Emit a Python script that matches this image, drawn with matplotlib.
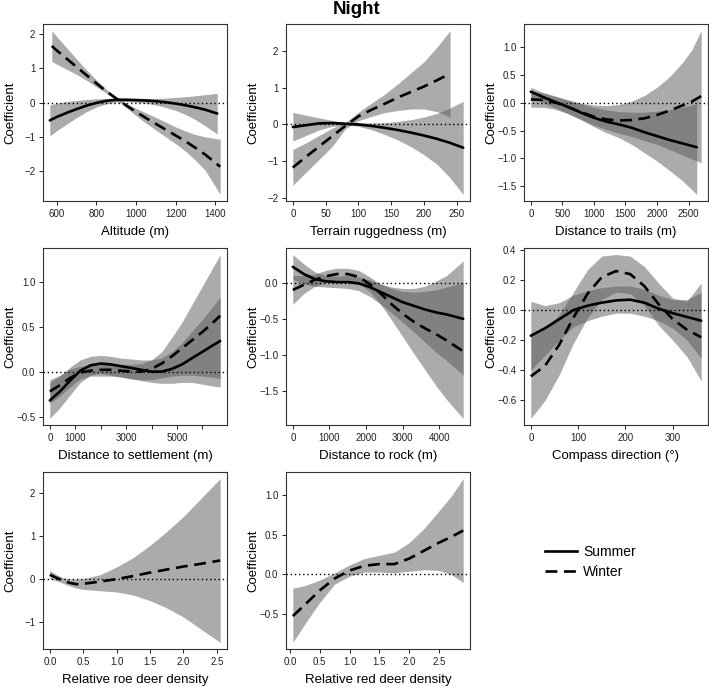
import matplotlib
matplotlib.use('Agg')
import matplotlib.pyplot as plt
from matplotlib.ticker import FixedLocator
from matplotlib.lines import Line2D

plt.rcParams['font.family'] = ['Liberation Sans', 'DejaVu Sans']

# ---------------- data ----------------
# Altitude
alt_s_x = [565, 600, 650, 700, 750, 800, 850, 900, 950, 1000, 1050, 1100, 1150, 1200, 1250, 1300, 1350, 1410]
alt_s_y = [-0.52, -0.42, -0.3, -0.19, -0.09, -0.01, 0.05, 0.08, 0.08, 0.07, 0.06, 0.04, 0.01, -0.03, -0.08, -0.14, -0.21, -0.32]
alt_s_lo = [-0.97, -0.82, -0.63, -0.44, -0.27, -0.13, -0.04, 0.01, 0.03, 0.01, -0.02, -0.07, -0.14, -0.23, -0.35, -0.5, -0.68, -0.92]
alt_s_hi = [-0.07, -0.02, 0.03, 0.06, 0.09, 0.11, 0.12, 0.13, 0.13, 0.13, 0.12, 0.12, 0.13, 0.15, 0.17, 0.2, 0.23, 0.27]
alt_w_x = [575, 600, 650, 700, 750, 800, 850, 900, 950, 1000, 1050, 1100, 1150, 1200, 1250, 1300, 1350, 1425]
alt_w_y = [1.65, 1.52, 1.28, 1.04, 0.8, 0.56, 0.33, 0.12, -0.08, -0.27, -0.45, -0.62, -0.79, -0.96, -1.13, -1.32, -1.52, -1.87]
alt_w_lo = [1.2, 1.12, 0.97, 0.82, 0.65, 0.46, 0.27, 0.08, -0.15, -0.38, -0.6, -0.8, -1.0, -1.2, -1.42, -1.68, -1.98, -2.68]
alt_w_hi = [2.1, 1.92, 1.6, 1.27, 0.95, 0.66, 0.39, 0.16, -0.02, -0.17, -0.3, -0.43, -0.57, -0.71, -0.83, -0.93, -1.0, -1.07]

# Terrain ruggedness
ter_s_x = [0, 20, 40, 60, 80, 100, 120, 140, 160, 180, 200, 220, 240, 260]
ter_s_y = [-0.07, -0.02, 0.03, 0.04, 0.02, 0.0, -0.04, -0.09, -0.15, -0.22, -0.3, -0.39, -0.5, -0.63]
ter_s_lo = [-0.45, -0.3, -0.15, -0.05, -0.01, -0.05, -0.14, -0.27, -0.42, -0.6, -0.82, -1.08, -1.45, -1.9]
ter_s_hi = [0.33, 0.25, 0.18, 0.11, 0.05, 0.04, 0.04, 0.05, 0.08, 0.13, 0.2, 0.3, 0.45, 0.63]
ter_w_x = [0, 20, 40, 60, 80, 100, 120, 140, 160, 180, 200, 220, 240]
ter_w_y = [-1.17, -0.88, -0.6, -0.32, -0.04, 0.22, 0.4, 0.56, 0.73, 0.88, 1.03, 1.2, 1.38]
ter_w_lo = [-1.65, -1.3, -0.95, -0.6, -0.12, 0.1, 0.22, 0.32, 0.38, 0.42, 0.42, 0.35, 0.2]
ter_w_hi = [-0.68, -0.5, -0.3, -0.1, 0.05, 0.33, 0.58, 0.82, 1.1, 1.4, 1.7, 2.1, 2.55]

# Distance to trails
trl_s_x = [0, 200, 400, 600, 800, 1000, 1200, 1400, 1600, 1800, 2000, 2200, 2400, 2630]
trl_s_y = [0.2, 0.1, 0.01, -0.08, -0.18, -0.27, -0.34, -0.39, -0.45, -0.53, -0.6, -0.67, -0.73, -0.8]
trl_s_lo = [0.1, 0.0, -0.1, -0.2, -0.31, -0.43, -0.54, -0.63, -0.75, -0.9, -1.05, -1.22, -1.4, -1.65]
trl_s_hi = [0.28, 0.18, 0.1, 0.04, -0.02, -0.08, -0.13, -0.16, -0.17, -0.17, -0.15, -0.12, -0.08, -0.02]
trl_w_x = [0, 200, 400, 600, 800, 1000, 1200, 1400, 1600, 1800, 2000, 2200, 2400, 2550, 2700]
trl_w_y = [0.06, 0.05, 0.0, -0.08, -0.17, -0.25, -0.3, -0.32, -0.31, -0.28, -0.22, -0.14, -0.05, 0.02, 0.12]
trl_w_lo = [-0.08, -0.08, -0.12, -0.2, -0.3, -0.4, -0.48, -0.55, -0.61, -0.68, -0.75, -0.84, -0.94, -1.01, -1.08]
trl_w_hi = [0.2, 0.18, 0.12, 0.05, -0.01, -0.04, -0.05, -0.03, 0.03, 0.13, 0.28, 0.47, 0.72, 0.95, 1.3]

# Distance to settlement
set_x = [0, 400, 800, 1200, 1600, 2000, 2400, 2800, 3200, 3600, 4000, 4400, 4800, 5200, 5600, 6000, 6400, 6700]
set_s_y = [-0.32, -0.22, -0.1, 0.01, 0.07, 0.09, 0.08, 0.06, 0.04, 0.02, 0.0, 0.0, 0.03, 0.08, 0.15, 0.22, 0.29, 0.34]
set_s_lo = [-0.52, -0.4, -0.26, -0.12, -0.04, -0.02, -0.04, -0.06, -0.08, -0.1, -0.12, -0.13, -0.13, -0.12, -0.12, -0.14, -0.16, -0.17]
set_s_hi = [-0.12, -0.05, 0.05, 0.13, 0.17, 0.18, 0.17, 0.15, 0.14, 0.13, 0.13, 0.15, 0.22, 0.32, 0.45, 0.58, 0.72, 0.83]
set_w_y = [-0.22, -0.15, -0.07, -0.01, 0.01, 0.02, 0.02, 0.01, 0.0, 0.0, 0.03, 0.09, 0.17, 0.26, 0.35, 0.44, 0.54, 0.62]
set_w_lo = [-0.35, -0.27, -0.17, -0.08, -0.05, -0.05, -0.05, -0.06, -0.08, -0.09, -0.09, -0.07, -0.05, -0.04, -0.04, -0.05, -0.06, -0.08]
set_w_hi = [-0.09, -0.04, 0.03, 0.06, 0.07, 0.08, 0.08, 0.08, 0.08, 0.09, 0.13, 0.22, 0.38, 0.55, 0.75, 0.95, 1.15, 1.3]

# Distance to rock
rck_x = [0, 300, 600, 900, 1200, 1500, 1800, 2100, 2400, 2700, 3000, 3300, 3600, 3900, 4200, 4650]
rck_s_y = [0.22, 0.12, 0.05, 0.02, 0.01, 0.01, -0.01, -0.06, -0.13, -0.2, -0.27, -0.32, -0.37, -0.41, -0.44, -0.5]
rck_s_lo = [0.05, -0.02, -0.05, -0.06, -0.07, -0.08, -0.11, -0.19, -0.3, -0.42, -0.55, -0.68, -0.82, -0.96, -1.08, -1.28]
rck_s_hi = [0.39, 0.26, 0.15, 0.1, 0.09, 0.1, 0.08, 0.04, -0.02, -0.06, -0.08, -0.08, -0.05, 0.02, 0.1, 0.3]
rck_w_y = [-0.1, -0.03, 0.04, 0.09, 0.12, 0.12, 0.08, -0.02, -0.15, -0.3, -0.43, -0.54, -0.63, -0.71, -0.8, -0.95]
rck_w_lo = [-0.3, -0.15, -0.05, 0.0, 0.04, 0.04, -0.01, -0.12, -0.3, -0.52, -0.75, -0.98, -1.2, -1.42, -1.62, -1.88]
rck_w_hi = [0.1, 0.1, 0.12, 0.17, 0.2, 0.2, 0.17, 0.08, -0.02, -0.08, -0.12, -0.13, -0.12, -0.1, -0.06, 0.0]

# Compass direction
cmp_x = [0, 30, 60, 90, 120, 150, 180, 210, 240, 270, 300, 330, 360]
cmp_s_y = [-0.17, -0.12, -0.06, 0.0, 0.03, 0.05, 0.065, 0.07, 0.05, 0.01, -0.02, -0.045, -0.07]
cmp_s_lo = [-0.4, -0.3, -0.2, -0.11, -0.07, -0.04, -0.02, -0.02, -0.04, -0.07, -0.12, -0.2, -0.32]
cmp_s_hi = [0.06, 0.03, 0.05, 0.1, 0.13, 0.15, 0.16, 0.16, 0.14, 0.1, 0.07, 0.07, 0.12]
cmp_w_y = [-0.44, -0.37, -0.23, -0.05, 0.11, 0.22, 0.26, 0.24, 0.16, 0.04, -0.06, -0.13, -0.18]
cmp_w_lo = [-0.72, -0.6, -0.43, -0.22, -0.05, 0.07, 0.12, 0.11, 0.03, -0.1, -0.2, -0.31, -0.47]
cmp_w_hi = [-0.16, -0.12, -0.03, 0.12, 0.27, 0.36, 0.37, 0.36, 0.29, 0.18, 0.08, 0.06, 0.18]

# Relative roe deer density (winter only)
roe_x = [0.0, 0.1, 0.2, 0.3, 0.4, 0.5, 0.75, 1.0, 1.25, 1.5, 1.75, 2.0, 2.25, 2.55]
roe_y = [0.1, 0.03, -0.04, -0.09, -0.12, -0.11, -0.06, 0.0, 0.07, 0.15, 0.22, 0.29, 0.35, 0.43]
roe_lo = [0.0, -0.04, -0.1, -0.16, -0.21, -0.24, -0.27, -0.3, -0.37, -0.5, -0.67, -0.88, -1.15, -1.47]
roe_hi = [0.2, 0.1, 0.03, 0.0, 0.0, 0.01, 0.1, 0.28, 0.5, 0.78, 1.1, 1.45, 1.85, 2.33]

# Relative red deer density (winter only)
red_x = [0.05, 0.25, 0.5, 0.75, 1.0, 1.25, 1.5, 1.75, 2.0, 2.25, 2.5, 2.7, 2.9]
red_y = [-0.52, -0.38, -0.2, -0.05, 0.05, 0.11, 0.13, 0.13, 0.2, 0.3, 0.4, 0.47, 0.55]
red_lo = [-0.85, -0.62, -0.35, -0.12, -0.02, 0.03, 0.03, 0.02, 0.04, 0.06, 0.05, 0.0, -0.1]
red_hi = [-0.17, -0.14, -0.07, 0.02, 0.12, 0.2, 0.24, 0.28, 0.4, 0.58, 0.8, 0.98, 1.2]

xlabels = ["Altitude (m)", "Terrain ruggedness (m)", "Distance to trails (m)",
           "Distance to settlement (m)", "Distance to rock (m)", "Compass direction (\u00b0)",
           "Relative roe deer density", "Relative red deer density"]
season_labels = ["Summer", "Winter"]

panels = [
    dict(summer=(alt_s_x, alt_s_y, alt_s_lo, alt_s_hi), winter=(alt_w_x, alt_w_y, alt_w_lo, alt_w_hi),
         xt=[600, 800, 1000, 1200, 1400], xtl=None, yt=[-2, -1, 0, 1, 2]),
    dict(summer=(ter_s_x, ter_s_y, ter_s_lo, ter_s_hi), winter=(ter_w_x, ter_w_y, ter_w_lo, ter_w_hi),
         xt=[0, 50, 100, 150, 200, 250], xtl=None, yt=[-2, -1, 0, 1, 2]),
    dict(summer=(trl_s_x, trl_s_y, trl_s_lo, trl_s_hi), winter=(trl_w_x, trl_w_y, trl_w_lo, trl_w_hi),
         xt=[0, 500, 1000, 1500, 2000, 2500], xtl=None, yt=[-1.5, -1.0, -0.5, 0.0, 0.5, 1.0]),
    dict(summer=(set_x, set_s_y, set_s_lo, set_s_hi), winter=(set_x, set_w_y, set_w_lo, set_w_hi),
         xt=[0, 1000, 2000, 3000, 4000, 5000, 6000],
         xtl=["0", "1000", "", "3000", "", "5000", ""], yt=[-0.5, 0.0, 0.5, 1.0]),
    dict(summer=(rck_x, rck_s_y, rck_s_lo, rck_s_hi), winter=(rck_x, rck_w_y, rck_w_lo, rck_w_hi),
         xt=[0, 1000, 2000, 3000, 4000], xtl=None, yt=[-1.5, -1.0, -0.5, 0.0]),
    dict(summer=(cmp_x, cmp_s_y, cmp_s_lo, cmp_s_hi), winter=(cmp_x, cmp_w_y, cmp_w_lo, cmp_w_hi),
         xt=[0, 100, 200, 300], xtl=None, yt=[-0.6, -0.4, -0.2, 0.0, 0.2, 0.4]),
    dict(summer=None, winter=(roe_x, roe_y, roe_lo, roe_hi),
         xt=[0.0, 0.5, 1.0, 1.5, 2.0, 2.5], xtl=None, yt=[-1, 0, 1, 2]),
    dict(summer=None, winter=(red_x, red_y, red_lo, red_hi),
         xt=[0.0, 0.5, 1.0, 1.5, 2.0, 2.5], xtl=None, yt=[-0.5, 0.0, 0.5, 1.0]),
]

# ---------------- layout ----------------
W, H = 709, 687
fig = plt.figure(figsize=(W / 100, H / 100), dpi=100)
col_left = [43, 286, 524]
row_top = [24, 248, 472]
aw, ah = 184, 177

band_kw = dict(color=(0.35, 0.35, 0.35), alpha=0.5, lw=0)
line_kw = dict(color='black', lw=1.9)
dash = (0, (4.5, 2.5))

for i, p in enumerate(panels):
    r, c = divmod(i, 3)
    ax = fig.add_axes([col_left[c] / W, 1 - (row_top[r] + ah) / H, aw / W, ah / H])
    for key in ("summer", "winter"):
        if p[key] is not None:
            x, y, lo, hi = p[key]
            ax.fill_between(x, lo, hi, **band_kw)
    ax.margins(x=0.04, y=0.04)
    ax.axhline(0, color='black', lw=1.0, ls=(0, (1, 2)), zorder=3)
    if p["summer"] is not None:
        x, y, lo, hi = p["summer"]
        ax.plot(x, y, ls='-', zorder=4, solid_capstyle='round', **line_kw)
    x, y, lo, hi = p["winter"]
    ax.plot(x, y, ls=dash, zorder=4, **line_kw)

    ax.xaxis.set_major_locator(FixedLocator(p["xt"]))
    if p["xtl"] is not None:
        ax.set_xticklabels(p["xtl"])
    ax.yaxis.set_major_locator(FixedLocator(p["yt"]))
    ax.tick_params(direction='out', length=3, width=0.7, labelsize=7, pad=2.5, colors='#222222')
    for s in ax.spines.values():
        s.set_linewidth(0.8)
        s.set_color('#333333')
    ax.set_xlabel(xlabels[i], fontsize=9.5)
    ax.set_ylabel("Coefficient", fontsize=9.5)
    ax.xaxis.label.set_va('center')
    ax.yaxis.label.set_va('center')
    ax.xaxis.set_label_coords(0.5, -31 / ah)
    ax.yaxis.set_label_coords(-33 / aw, 0.5)

fig.text(357 / W, 1 - 9 / H, "Night", ha='center', va='center', fontsize=13.5, fontweight='bold')

handles = [Line2D([], [], color='black', lw=1.9, ls='-'),
           Line2D([], [], color='black', lw=1.9, ls=dash)]
fig.legend(handles, season_labels, loc='center left', bbox_to_anchor=(545 / W, 1 - 562 / H),
           frameon=False, fontsize=10, handlelength=2.3, handletextpad=0.45,
           labelspacing=0.45, borderpad=0, borderaxespad=0)

fig.savefig("out.png", dpi=100)
